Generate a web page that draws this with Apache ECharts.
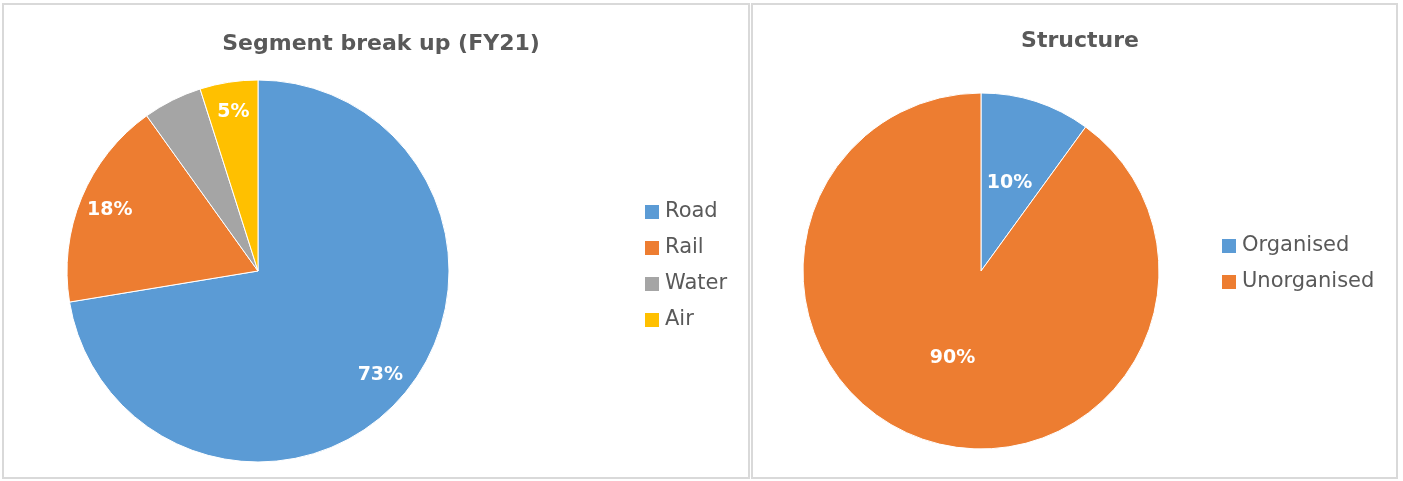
<!DOCTYPE html>
<html>
<head>
<meta charset="utf-8">
<script src="https://cdn.jsdelivr.net/npm/echarts@6/dist/echarts.min.js"></script>
<style>
html,body{margin:0;padding:0;background:#fff;}
#chart{width:1403px;height:481px;}
</style>
</head>
<body>
<div id="chart"></div>
<script>
// Data
const segTitle = 'Segment break up (FY21)';
const segNames = ['Road', 'Rail', 'Water', 'Air'];
const segValues = [72.4, 17.7, 5.0, 4.9];
const segLabels = ['73%', '18%', '', '5%'];
const segColors = ['#5B9BD5', '#ED7D31', '#A5A5A5', '#FFC000'];

const strTitle = 'Structure';
const strNames = ['Organised', 'Unorganised'];
const strValues = [10, 90];
const strLabels = ['10%', '90%'];
const strColors = ['#5B9BD5', '#ED7D31'];

const FONT = '"DejaVu Sans", sans-serif';
const TXT = '#595959';

const chart = echarts.init(document.getElementById('chart'), null, {renderer: 'canvas'});

function mkData(names, values, colors, labels) {
  return names.map((n, i) => ({
    name: n, value: values[i],
    itemStyle: {color: colors[i]},
    label: {show: labels[i] !== '', formatter: labels[i]}
  }));
}

const labelStyle = {
  color: '#fff', fontFamily: FONT, fontWeight: 'bold', fontSize: 19
};

const option = {
  animation: false,
  graphic: [
    {type: 'rect', shape: {x: 3, y: 4, width: 746, height: 474}, style: {fill: 'none', stroke: '#d9d9d9', lineWidth: 2}, silent: true},
    {type: 'rect', shape: {x: 752, y: 4, width: 645, height: 474}, style: {fill: 'none', stroke: '#d9d9d9', lineWidth: 2}, silent: true}
  ],
  title: [
    {text: segTitle, left: 376, top: 28, textAlign: 'center',
     textStyle: {fontFamily: FONT, fontWeight: 'bold', fontSize: 22, color: TXT}},
    {text: strTitle, left: 1075, top: 25, textAlign: 'center',
     textStyle: {fontFamily: FONT, fontWeight: 'bold', fontSize: 22, color: TXT}}
  ],
  legend: [
    {orient: 'vertical', left: 638, top: 196, itemWidth: 16, itemHeight: 16, itemGap: 14,
     icon: 'rect', selectedMode: false,
     data: segNames.map((n, i) => ({name: n, itemStyle: {color: segColors[i]}})),
     textStyle: {fontFamily: FONT, fontSize: 21, color: TXT, lineHeight: 22}},
    {orient: 'vertical', left: 1215, top: 230, itemWidth: 16, itemHeight: 16, itemGap: 14,
     icon: 'rect', selectedMode: false,
     data: strNames.map((n, i) => ({name: n, itemStyle: {color: strColors[i]}})),
     textStyle: {fontFamily: FONT, fontSize: 21, color: TXT, lineHeight: 22}}
  ],
  series: [
    {type: 'pie', center: [258, 271], radius: [0, 191], startAngle: 90, clockwise: true,
     silent: true, label: {show: false}, labelLine: {show: false},
     itemStyle: {borderColor: '#fff', borderWidth: 1},
     data: segNames.map((n, i) => ({name: n, value: segValues[i], itemStyle: {color: segColors[i]}}))},
    {type: 'pie', center: [258, 271], radius: [124, 191], startAngle: 90, clockwise: true,
     silent: true, labelLine: {show: false}, legendHoverLink: false,
     label: Object.assign({position: 'inside'}, labelStyle),
     itemStyle: {color: 'rgba(0,0,0,0)', borderWidth: 0},
     data: segNames.map((n, i) => ({name: n, value: segValues[i], itemStyle: {color: 'rgba(0,0,0,0)'},
       label: {show: segLabels[i] !== '', formatter: segLabels[i]}}))},
    {type: 'pie', center: [981, 271], radius: [0, 178], startAngle: 90, clockwise: true,
     silent: true, labelLine: {show: false},
     label: Object.assign({position: 'inside'}, labelStyle),
     itemStyle: {borderColor: '#fff', borderWidth: 1},
     data: mkData(strNames, strValues, strColors, strLabels)}
  ]
};
chart.setOption(option);
</script>
</body>
</html>
